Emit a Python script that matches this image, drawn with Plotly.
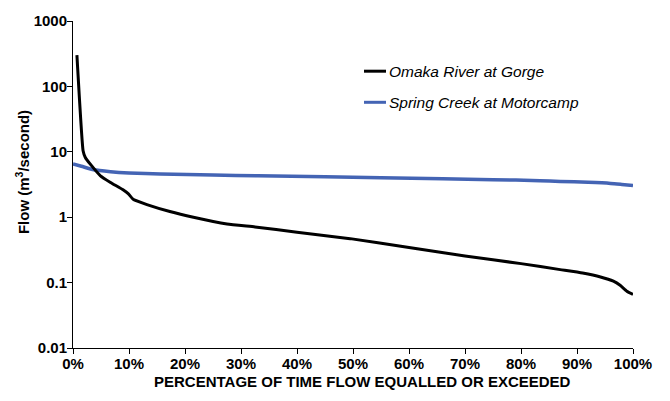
import plotly.graph_objects as go

# ---- data ----
omaka_pct = [0.7, 1.8, 2.2, 3.2, 4.9, 6.7, 9.0, 9.9, 10.8, 13.2, 17.3, 21.5, 27.5, 32.5,
             40, 49.5, 60, 70, 80, 87, 91, 94.2, 96.5, 97.7, 98.9, 100]
omaka_flow = [300, 10.4, 8.2, 6.3, 4.3, 3.4, 2.6, 2.27, 1.86, 1.56, 1.22, 1.0, 0.79, 0.71,
              0.59, 0.47, 0.345, 0.255, 0.195, 0.158, 0.14, 0.122, 0.105, 0.091, 0.074, 0.066]

spring_pct = [0, 1.5, 3.7, 6.7, 10, 15.6, 25, 33, 45, 55, 66, 75, 83.4, 87, 92, 96, 98, 100]
spring_flow = [6.5, 6.0, 5.3, 4.96, 4.75, 4.57, 4.4, 4.31, 4.15, 4.0, 3.88, 3.75, 3.62,
               3.53, 3.42, 3.29, 3.17, 3.04]

y_tickvals = [0.01, 0.1, 1, 10, 100, 1000]
y_ticktext = ["0.01", "0.1", "1", "10", "100", "1000"]
x_tickvals = [0, 10, 20, 30, 40, 50, 60, 70, 80, 90, 100]
x_ticktext = [f"{v}%" for v in x_tickvals]

series_names = ["Omaka River at Gorge", "Spring Creek at Motorcamp"]
colors = ["#000000", "#4464b4"]

FONT = "Arial, Liberation Sans, sans-serif"

fig = go.Figure()
fig.add_trace(go.Scatter(x=spring_pct, y=spring_flow, mode="lines",
                         line=dict(color=colors[1], width=3.5, shape="spline", smoothing=0.6),
                         name=series_names[1], showlegend=False))
fig.add_trace(go.Scatter(x=omaka_pct, y=omaka_flow, mode="lines",
                         line=dict(color=colors[0], width=3, shape="spline", smoothing=0.4),
                         name=series_names[0], showlegend=False))

# plot area geometry (px)
L, R, T, B = 73, 37, 19, 53
W, H = 670, 401
pw, ph = W - L - R, H - T - B

def px(x):
    return (x - L) / pw

def py(y):
    return (H - B - y) / ph

# custom legend
legend_rows = [(69.5, 0), (100.8, 1)]
for yy, i in legend_rows:
    fig.add_shape(type="line", xref="paper", yref="paper",
                  x0=px(364), x1=px(386), y0=py(yy), y1=py(yy),
                  line=dict(color=colors[i], width=3))
    fig.add_annotation(xref="paper", yref="paper", x=px(387), y=py(yy),
                       text=f"<i>{series_names[i]}</i>", showarrow=False,
                       xanchor="left", yanchor="middle",
                       font=dict(family=FONT, size=15.5, color="#000"))

# axis titles
fig.add_annotation(xref="paper", yref="paper", x=px(22), y=py(171),
                   text="<b>Flow (m<sup>3</sup>/second)</b>", showarrow=False,
                   textangle=-90, xanchor="center", yanchor="middle",
                   font=dict(family=FONT, size=15, color="#000"))
fig.add_annotation(xref="paper", yref="paper", x=px(362), y=py(382),
                   text="<b>PERCENTAGE OF TIME FLOW EQUALLED OR EXCEEDED</b>", showarrow=False,
                   xanchor="center", yanchor="middle",
                   font=dict(family=FONT, size=15, color="#000"))

fig.update_layout(
    width=W, height=H,
    margin=dict(l=L, r=R, t=T, b=B),
    paper_bgcolor="white", plot_bgcolor="white",
    font=dict(family=FONT, color="#000"),
    xaxis=dict(range=[0, 100], tickvals=x_tickvals, ticktext=x_ticktext,
               showgrid=False, zeroline=False, showline=True, linecolor="#000", linewidth=1,
               ticks="outside", ticklen=5, tickcolor="#000", tickwidth=1,
               ticklabelstandoff=-3,
               tickfont=dict(family=FONT, size=15, color="#000", weight="bold")),
    yaxis=dict(type="log", range=[-2, 3], tickvals=y_tickvals, ticktext=y_ticktext,
               showgrid=False, zeroline=False, showline=True, linecolor="#000", linewidth=1,
               ticks="outside", ticklen=5, tickcolor="#000", tickwidth=1,
               ticklabelstandoff=-3,
               tickfont=dict(family=FONT, size=15, color="#000", weight="bold")),
)

fig.write_html("out.html", config={"displayModeBar": False},
               post_script="document.body.style.margin='0';")
